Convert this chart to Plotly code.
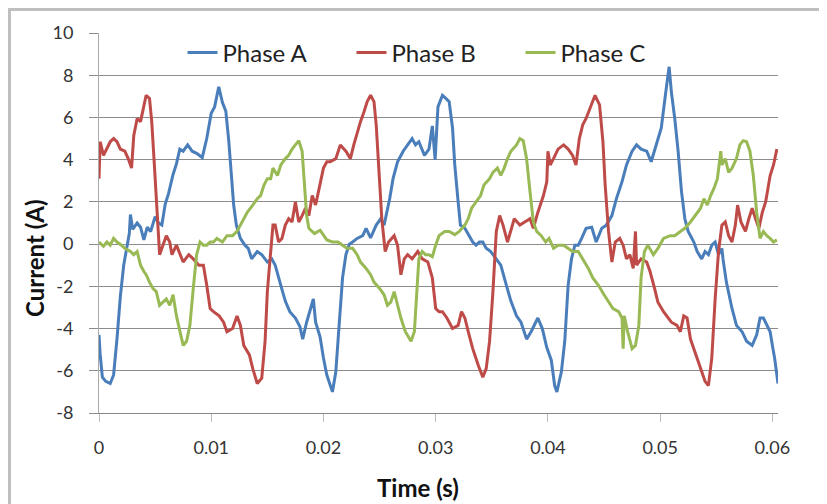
import plotly.graph_objects as go

# ---- data ----
time_a = [0, 0.0001, 0.0003, 0.0006, 0.001, 0.0013, 0.0016, 0.0019, 0.0022, 0.0025, 0.0027, 0.0028, 0.003, 0.0034,
          0.0037, 0.004, 0.0043, 0.0046, 0.005, 0.0053, 0.0056, 0.0059, 0.0062, 0.0066, 0.0069, 0.0072, 0.0075, 0.0079,
          0.0083, 0.0087, 0.0092, 0.0096, 0.01, 0.0103, 0.01067, 0.011, 0.0113, 0.01156, 0.01176, 0.012, 0.01224, 0.0126,
          0.013, 0.0133, 0.0136, 0.0141, 0.0145, 0.015, 0.0154, 0.0157, 0.0162, 0.0166, 0.017, 0.0175, 0.0179, 0.01815,
          0.0185, 0.0191, 0.0193, 0.0197, 0.0200, 0.0203, 0.0208, 0.0211, 0.0214, 0.0217, 0.022, 0.0223, 0.0226, 0.023,
          0.0235, 0.0238, 0.0242, 0.0247, 0.0251, 0.0254, 0.0259, 0.0262, 0.0266, 0.0271, 0.0275, 0.0279, 0.0282, 0.0285,
          0.029, 0.0294, 0.0297, 0.02995, 0.0302, 0.0306, 0.0309, 0.0312, 0.0315, 0.0317, 0.032, 0.0322, 0.0326, 0.033,
          0.0333, 0.0336, 0.0339, 0.0342, 0.0345, 0.0349, 0.0354, 0.0358, 0.0363, 0.0367, 0.0372, 0.0376, 0.0381, 0.0385,
          0.0391, 0.0395, 0.0399, 0.0403, 0.0406, 0.0408, 0.0412, 0.0415, 0.0418, 0.0421, 0.0424, 0.0427, 0.043, 0.0434,
          0.0439, 0.0443, 0.0448, 0.0452, 0.0457, 0.0461, 0.0466, 0.047, 0.0475, 0.0479, 0.0483, 0.0488, 0.0492, 0.0497,
          0.0501, 0.0505, 0.0508, 0.051, 0.0513, 0.0516, 0.0519, 0.0522, 0.0525, 0.053, 0.0533, 0.0537, 0.054, 0.0543,
          0.0546, 0.0549, 0.0552, 0.0555, 0.0556, 0.0559, 0.0564, 0.0568, 0.0573, 0.0577, 0.0582, 0.0586, 0.0589, 0.0592,
          0.0595, 0.0598, 0.06, 0.0602, 0.0605]
current_a = [-4.3, -5.2, -6.3, -6.5, -6.6, -6.2, -4.5, -2.5, -1.0, 0.0, 0.5, 1.4, 0.7, 1.0,
             0.8, 0.2, 0.8, 0.6, 1.3, 1.0, 0.9, 1.9, 2.4, 3.3, 3.8, 4.5, 4.4, 4.7,
             4.4, 4.3, 4.1, 5.0, 6.2, 6.5, 7.45, 6.7, 6.3, 4.9, 3.3, 1.85, 0.9, 0.27,
             -0.05, -0.2, -0.7, -0.35, -0.5, -0.85, -0.7, -1.0, -1.95, -2.7, -3.2, -3.5, -3.9, -4.5,
             -3.7, -2.6, -3.7, -4.4, -5.4, -6.2, -7.0, -6.05, -3.8, -1.6, -0.5, 0.0, 0.1, 0.27,
             0.4, 0.75, 0.3, 0.9, 1.2, 0.9, 2.15, 3.1, 3.9, 4.4, 4.7, 5.0, 4.7, 4.85,
             4.2, 4.5, 5.6, 4.0, 6.5, 7.05, 6.9, 6.75, 5.5, 3.75, 2.0, 0.9, 0.75, 0.4,
             0.1, -0.05, 0.1, 0.1, -0.2, -0.35, -0.7, -1.0, -1.95, -2.7, -3.4, -3.7, -4.5, -4.15,
             -3.5, -4.0, -4.9, -5.5, -6.7, -7.0, -6.05, -4.6, -1.95, -0.7, -0.05, -0.05, 0.27, 0.75,
             0.8, 0.1, 0.75, 0.9, 1.35, 2.15, 2.95, 3.75, 4.4, 4.7, 4.5, 4.4, 3.9, 4.85,
             5.5, 7.2, 8.4, 7.2, 5.95, 4.4, 2.5, 1.2, 0.6, 0.1, -0.35, -0.7, -0.35, -0.5,
             -0.05, 0.1, -0.5, -0.2, -0.7, -1.8, -3.05, -3.85, -4.15, -4.6, -4.8, -4.3, -3.5, -3.5,
             -3.85, -4.15, -4.8, -5.4, -6.6]

time_b = [0, 0.0001, 0.0004, 0.0007, 0.001, 0.0013, 0.0016, 0.0019, 0.0023, 0.0026, 0.0029, 0.0031, 0.0034, 0.0037,
          0.004, 0.0042, 0.0045, 0.0047, 0.0049, 0.0051, 0.0053, 0.0054, 0.0057, 0.006, 0.0063, 0.0065, 0.0069, 0.0072,
          0.0075, 0.008, 0.0084, 0.0089, 0.0093, 0.0096, 0.0099, 0.0102, 0.0107, 0.0111, 0.0114, 0.0119, 0.0123, 0.0126,
          0.0129, 0.0134, 0.0137, 0.0141, 0.0145, 0.0148, 0.015, 0.0153, 0.0155, 0.0157, 0.016, 0.0163, 0.0166, 0.0169,
          0.0172, 0.0175, 0.0178, 0.0181, 0.0184, 0.0187, 0.019, 0.0193, 0.0197, 0.02, 0.0203, 0.0206, 0.0211, 0.0215,
          0.022, 0.0224, 0.0227, 0.023, 0.0233, 0.0236, 0.0239, 0.0242, 0.0245, 0.0247, 0.025, 0.0252, 0.0255, 0.0258,
          0.0263, 0.0266, 0.0269, 0.0272, 0.0275, 0.0279, 0.0284, 0.0288, 0.0293, 0.0297, 0.03, 0.0303, 0.0306, 0.031,
          0.0315, 0.032, 0.0323, 0.0326, 0.0329, 0.0333, 0.0338, 0.0342, 0.0345, 0.0348, 0.0351, 0.0354, 0.0357, 0.036,
          0.0364, 0.0367, 0.037, 0.0375, 0.0379, 0.0384, 0.0387, 0.0391, 0.0396, 0.0399, 0.04, 0.0402, 0.0405, 0.0409,
          0.0414, 0.0418, 0.0422, 0.0425, 0.0428, 0.0431, 0.0434, 0.0439, 0.0442, 0.0446, 0.0449, 0.0451, 0.0454, 0.0457,
          0.046, 0.0464, 0.0467, 0.047, 0.0473, 0.0476, 0.0478, 0.0479, 0.0483, 0.0488, 0.0491, 0.0495, 0.0498, 0.0503,
          0.0506, 0.051, 0.0515, 0.0518, 0.0521, 0.0524, 0.0527, 0.0531, 0.0536, 0.054, 0.0543, 0.0546, 0.0549, 0.0552,
          0.0555, 0.0558, 0.0561, 0.0564, 0.0567, 0.0569, 0.0572, 0.0576, 0.0579, 0.0582, 0.0585, 0.0588, 0.0591, 0.0594,
          0.0598, 0.0601, 0.0604]
current_b = [3.1, 4.85, 4.2, 4.5, 4.85, 5.0, 4.85, 4.5, 4.4, 4.05, 3.6, 5.15, 5.95, 5.8,
             6.6, 7.05, 6.9, 5.8, 4.05, 2.15, 0.6, -0.5, -0.05, 0.4, 0.1, -0.5, -0.05, -0.5,
             -0.85, -0.5, -0.7, -1.0, -1.0, -1.95, -3.05, -3.2, -3.4, -3.7, -4.15, -4.0, -3.4, -3.85,
             -4.8, -5.25, -5.9, -6.6, -6.35, -4.6, -2.25, -0.35, 0.9, 0.9, 0.1, 0.27, 0.9, 1.2,
             1.05, 2.0, 1.05, 1.35, 1.7, 1.35, 2.3, 1.85, 2.8, 3.6, 3.9, 3.9, 4.05, 4.7,
             4.4, 4.05, 4.7, 5.3, 5.8, 6.25, 6.75, 7.05, 6.75, 5.65, 3.25, 1.2, -0.35, 0.1,
             0.4, -0.05, -1.45, -0.7, -0.5, -0.7, -0.35, -0.7, -0.85, -1.6, -3.05, -3.2, -3.2, -3.5,
             -4.0, -3.85, -3.2, -3.5, -4.15, -4.95, -5.75, -6.3, -5.9, -4.6, -2.25, 0.6, 1.35, 0.9,
             0.1, 0.6, 1.2, 0.9, 1.05, 1.2, 0.75, 1.5, 2.3, 2.95, 4.4, 3.75, 4.05, 4.5,
             4.7, 4.5, 4.2, 3.75, 5.0, 5.65, 5.95, 6.6, 7.05, 6.6, 4.85, 2.8, 0.6, -0.85,
             0.1, 0.27, -0.05, -0.7, -0.5, -1.15, 0.6, -1.0, -0.7, -0.85, -1.3, -2.1, -2.75, -3.2,
             -3.4, -3.7, -3.85, -4.15, -3.4, -3.5, -4.5, -5.1, -5.9, -6.5, -6.7, -5.4, -2.6, -0.35,
             0.9, 1.05, 0.4, 0.1, 0.9, 1.85, 1.05, 0.6, 1.2, 1.7, 1.2, 0.75, 1.5, 2.0,
             3.25, 3.75, 4.5]

time_c = [0, 0.0004, 0.0007, 0.001, 0.0013, 0.0016, 0.002, 0.0023, 0.0028, 0.0031, 0.0034, 0.0037, 0.004, 0.0042,
          0.0045, 0.0048, 0.0051, 0.0054, 0.0057, 0.006, 0.0063, 0.0066, 0.0069, 0.0072, 0.0075, 0.0078, 0.0081, 0.0084,
          0.0087, 0.009, 0.0093, 0.0096, 0.0099, 0.0102, 0.0105, 0.011, 0.0114, 0.0119, 0.0123, 0.0126, 0.0129, 0.0132,
          0.0137, 0.0141, 0.0144, 0.0147, 0.015, 0.0153, 0.0155, 0.0159, 0.0162, 0.0166, 0.0169, 0.0172, 0.0175, 0.0178,
          0.0181, 0.0183, 0.0185, 0.0187, 0.0192, 0.0197, 0.0203, 0.0208, 0.0213, 0.0217, 0.0221, 0.0226, 0.023, 0.0233,
          0.0238, 0.0242, 0.0245, 0.025, 0.0254, 0.0257, 0.026, 0.0263, 0.0266, 0.0269, 0.0273, 0.0278, 0.0281, 0.0283,
          0.0285, 0.0288, 0.0291, 0.0294, 0.0297, 0.03, 0.0303, 0.0308, 0.0312, 0.0317, 0.0321, 0.0326, 0.0329, 0.0332,
          0.0336, 0.034, 0.0343, 0.0348, 0.0351, 0.0355, 0.0358, 0.0361, 0.0364, 0.0367, 0.0372, 0.0375, 0.0378, 0.0381,
          0.0384, 0.0387, 0.039, 0.0394, 0.0398, 0.0401, 0.0405, 0.0409, 0.0414, 0.0418, 0.0422, 0.0427, 0.0431, 0.0436,
          0.044, 0.0445, 0.045, 0.0454, 0.0458, 0.0463, 0.0466, 0.0467, 0.0468, 0.0471, 0.0475, 0.0478, 0.0481, 0.0483,
          0.0486, 0.0489, 0.0494, 0.0498, 0.0503, 0.0509, 0.0513, 0.0518, 0.0522, 0.0527, 0.0531, 0.0536, 0.0539, 0.0542,
          0.0545, 0.0548, 0.0551, 0.0554, 0.0555, 0.0558, 0.0561, 0.0564, 0.0568, 0.0571, 0.0574, 0.0577, 0.058, 0.0583,
          0.0586, 0.0589, 0.0592, 0.0595, 0.0598, 0.0601, 0.0604]
current_c = [0.1, -0.1, 0.1, -0.05, 0.27, 0.1, -0.05, -0.2, -0.35, -0.5, -0.35, -1.0, -1.3, -1.45,
             -1.8, -2.1, -2.25, -2.9, -2.75, -2.6, -2.9, -2.4, -3.4, -4.15, -4.8, -4.6, -3.85, -2.1,
             -0.5, 0.1, -0.05, -0.05, 0.1, 0.1, 0.27, 0.1, 0.4, 0.4, 0.6, 0.9, 1.2, 1.5,
             1.85, 2.15, 2.3, 2.8, 3.1, 3.1, 3.6, 3.25, 3.75, 4.05, 4.2, 4.5, 4.7, 4.9,
             4.4, 2.8, 1.35, 0.75, 0.5, 0.66, 0.2, 0.1, 0.1, -0.05, -0.2, -0.2, -0.5, -0.85,
             -1.15, -1.45, -1.8, -2.1, -2.4, -2.9, -2.75, -2.25, -2.9, -3.5, -4.15, -4.6, -4.15, -2.4,
             -0.7, -0.35, -0.5, -0.5, -0.6, -0.05, 0.4, 0.6, 0.6, 0.45, 0.6, 0.9, 1.2, 1.7,
             2.0, 2.3, 2.8, 3.1, 3.4, 3.6, 3.25, 3.6, 4.05, 4.4, 4.7, 5.0, 4.9, 4.05,
             2.5, 1.05, 0.6, 0.4, 0.1, 0.27, -0.2, -0.05, -0.05, -0.2, -0.35, -0.35, -0.7, -1.15,
             -1.6, -1.95, -2.4, -2.75, -3.05, -3.2, -3.5, -4.95, -3.4, -4.15, -4.95, -4.8, -3.85, -1.6,
             -0.35, -0.05, -0.5, -0.2, 0.27, 0.4, 0.4, 0.6, 0.75, 1.05, 1.35, 1.7, 2.15, 1.85,
             2.3, 2.65, 3.1, 4.4, 3.75, 4.05, 3.4, 3.6, 4.05, 4.7, 4.9, 4.85, 4.4, 3.25,
             1.5, 0.27, 0.6, 0.4, 0.27, 0.1, 0.2]

series_names = ["Phase A", "Phase B", "Phase C"]
x_tick_values = [0, 0.01, 0.02, 0.03, 0.04, 0.05, 0.06]
x_tick_labels = ["0", "0.01", "0.02", "0.03", "0.04", "0.05", "0.06"]
y_tick_values = [-8, -6, -4, -2, 0, 2, 4, 6, 8, 10]
y_tick_labels = ["-8", "-6", "-4", "-2", "0", "2", "4", "6", "8", "10"]

colors = ["#4A7EBB", "#BE4B48", "#98B954"]
FONT = "Lato, 'Open Sans', sans-serif"

# page body has an 8px margin; figure is sized so the chart lands where the reference shows it
PLOT_W, PLOT_H = 679, 380
L, T = 91, 25

fig = go.Figure()
for name, t, v, c in zip(series_names, [time_a, time_b, time_c], [current_a, current_b, current_c], colors):
    fig.add_trace(go.Scatter(x=t, y=v, mode="lines", name=name,
                             line=dict(color=c, width=3, shape="linear")))


def px_x(ref_px):
    return (ref_px - 99) / PLOT_W


def px_y(ref_px):
    return (413 - ref_px) / PLOT_H


fig.update_layout(
    width=819, height=496,
    margin=dict(l=L, r=819 - L - PLOT_W, t=T, b=496 - T - PLOT_H),
    paper_bgcolor="white", plot_bgcolor="white",
    font=dict(family=FONT, color="#333333"),
    showlegend=True,
    legend=dict(orientation="h", x=px_x(436), xanchor="center", y=px_y(53), yanchor="middle",
                font=dict(size=24, color="#222222", family=FONT), bgcolor="rgba(255,255,255,0)",
                entrywidth=124, entrywidthmode="pixels", tracegroupgap=0),
    xaxis=dict(range=[0, 0.0605], tickvals=x_tick_values, ticktext=x_tick_labels,
               showgrid=False, zeroline=False, showline=True, linecolor="#868686", linewidth=1,
               ticks="outside", ticklen=8, tickcolor="#BBBBBB", tickwidth=1,
               tickfont=dict(size=18, color="#333333", family=FONT), ticklabelstandoff=10),
    yaxis=dict(range=[-8, 10], tickvals=y_tick_values, ticktext=y_tick_labels,
               showgrid=True, gridcolor="#8C8C8C", gridwidth=1,
               zeroline=False, showline=True, linecolor="#AAAAAA", linewidth=1,
               ticks="outside", ticklen=9, tickcolor="#8C8C8C", tickwidth=1,
               tickfont=dict(size=18, color="#333333", family=FONT), ticklabelstandoff=12),
    annotations=[
        dict(text="<b>Time (s)</b>", xref="paper", yref="paper", x=px_x(418), y=px_y(487),
             showarrow=False, font=dict(size=24, color="#111111", family=FONT), xanchor="center", yanchor="middle"),
        dict(text="<b>Current (A)</b>", xref="paper", yref="paper", x=px_x(35), y=px_y(258), textangle=-90,
             showarrow=False, font=dict(size=24, color="#111111", family=FONT), xanchor="center", yanchor="middle"),
    ],
    shapes=[
        dict(type="rect", xref="paper", yref="paper", x0=px_x(9.5), x1=px_x(821),
             y0=px_y(520), y1=px_y(9.5), line=dict(color="#BFBFBF", width=3), layer="below"),
    ],
)

fig.write_html("out.html")
